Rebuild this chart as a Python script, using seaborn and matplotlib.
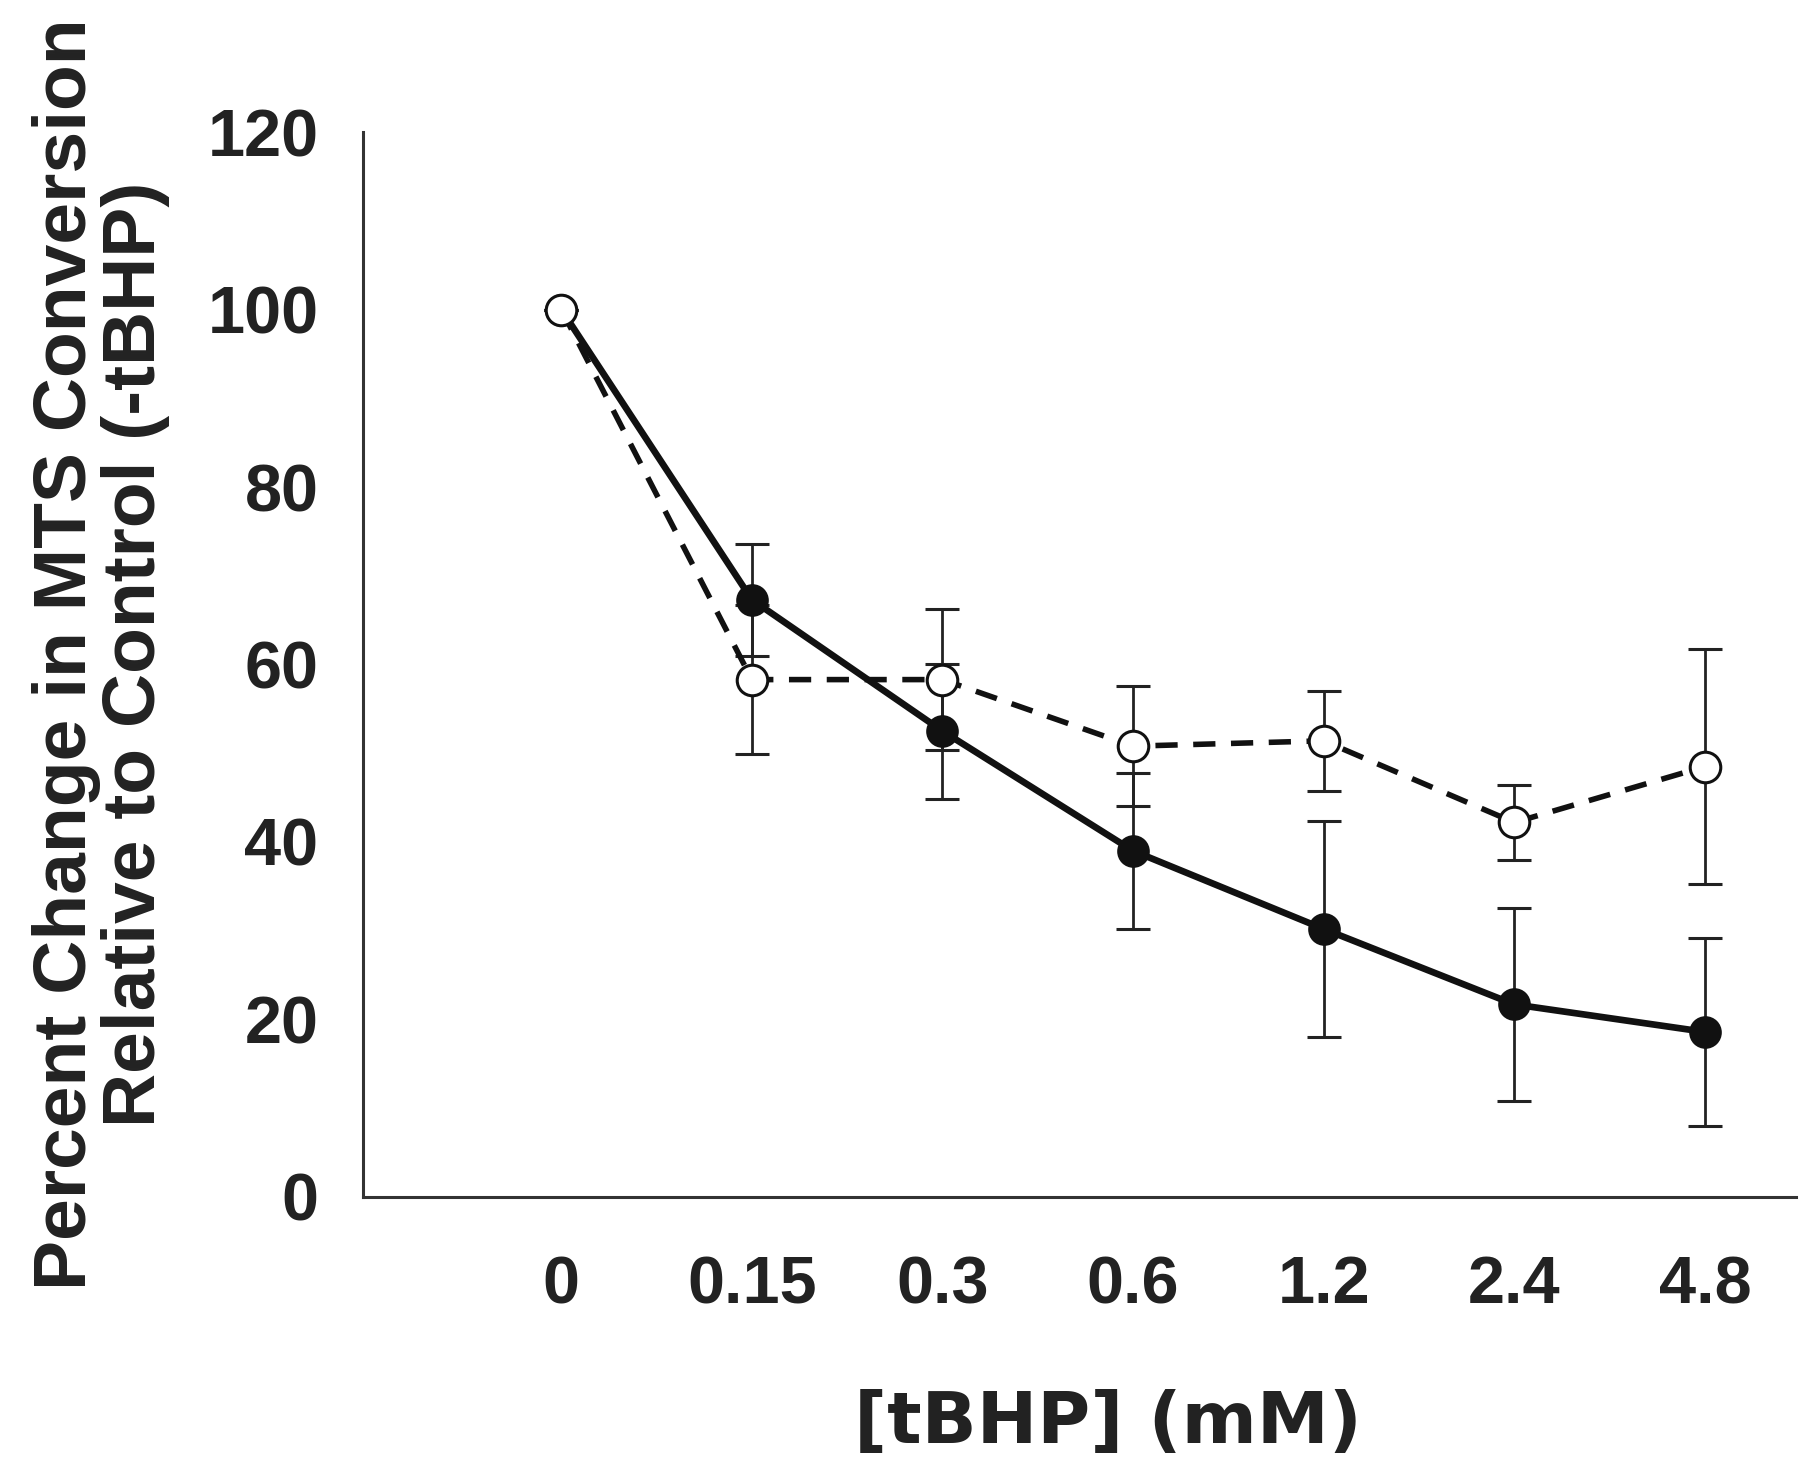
import matplotlib
matplotlib.use("Agg")
import matplotlib.pyplot as plt
import pandas as pd
import seaborn as sns

# dawki tBHP (mM) i wyniki
doses = ["0", "0.15", "0.3", "0.6", "1.2", "2.4", "4.8"]
filled_mean = [100, 67.3, 52.5, 39.0, 30.2, 21.7, 18.6]
filled_err = [0, 6.3, 7.6, 8.8, 12.2, 10.9, 10.6]
open_mean = [100, 58.3, 58.3, 50.8, 51.4, 42.2, 48.5]
open_err = [0, 8.4, 7.9, 6.8, 5.6, 4.2, 13.2]

sns.set_style("white")
plt.rcParams['font.family'] = ['Liberation Sans', 'DejaVu Sans']
plt.rcParams['font.weight'] = 'bold'

pos = list(range(len(doses)))
df = pd.DataFrame({
    "pos": pos + pos,
    "value": filled_mean + open_mean,
    "series": ["filled"] * len(doses) + ["open"] * len(doses),
})

fig = plt.figure(figsize=(9, 7.32), dpi=200)
ax = fig.add_axes([0.2017, 0.1824, 0.7963, 0.7274])

# slupki bledow
ax.errorbar(pos, filled_mean, yerr=filled_err, fmt="none", ecolor="#222222",
            elinewidth=1.0, capsize=6, capthick=1.1, zorder=2)
ax.errorbar(pos, open_mean, yerr=open_err, fmt="none", ecolor="#222222",
            elinewidth=1.0, capsize=6, capthick=1.1, zorder=2)

sns.lineplot(data=df[df.series == "filled"], x="pos", y="value", ax=ax,
             color="#111111", linewidth=2.4, marker="o", markersize=11,
             markerfacecolor="#111111", markeredgecolor="#111111", zorder=3)
sns.lineplot(data=df[df.series == "open"], x="pos", y="value", ax=ax,
             color="#111111", linewidth=2.0, marker="o", markersize=11,
             markerfacecolor="white", markeredgecolor="#111111",
             markeredgewidth=1.1, dashes=(4, 2.8), zorder=4)

ax.set_xlim(-1.04, 6.48)
ax.set_ylim(0, 120)
ax.set_xticks(range(-1, len(doses)))
ax.set_xticklabels([""] + doses)
ax.set_yticks(range(0, 121, 20))

ax.tick_params(axis="x", direction="out", length=4, width=1.0, pad=17,
               labelsize=24, color="#333333")
ax.tick_params(axis="y", direction="out", length=4, width=1.0, pad=12,
               labelsize=24, color="#333333")
for lab in ax.get_xticklabels() + ax.get_yticklabels():
    lab.set_fontweight("bold")
    lab.set_color("#222222")

sns.despine(ax=ax)
for s in ["left", "bottom"]:
    ax.spines[s].set_linewidth(1.1)
    ax.spines[s].set_color("#333333")

ax.set_xlabel("[tBHP] (mM)", fontsize=26, fontweight="bold",
              family=["DejaVu Sans"], color="#222222")
ax.xaxis.set_label_coords(0.52, -0.18)
ax.set_ylabel("Percent Change in MTS Conversion\nRelative to Control (-tBHP)",
              fontsize=27, fontweight="bold", color="#222222",
              linespacing=1.0)
ax.yaxis.set_label_coords(-0.135, 0.51)

plt.savefig("out.png", dpi=200)
